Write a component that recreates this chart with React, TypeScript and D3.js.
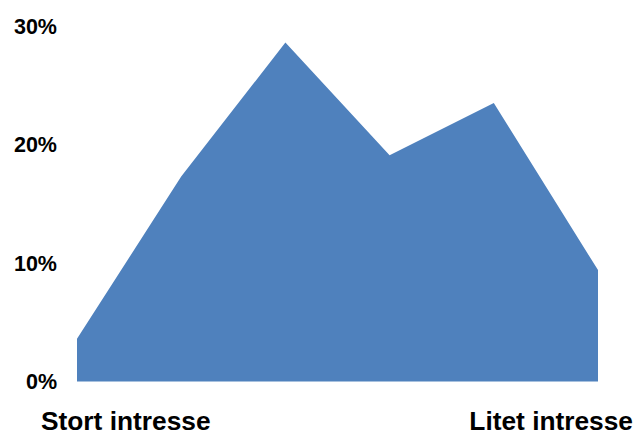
import React from "react";
import * as d3 from "d3";

// Share of respondents per step on the interest scale
const steps = [1, 2, 3, 4, 5, 6];
const shares = [0.036, 0.173, 0.286, 0.191, 0.235, 0.094];
const yTicks = [0, 0.1, 0.2, 0.3];
const endLabels = ["Stort intresse", "Litet intresse"];

const W = 636;
const H = 435;

export default function App() {
  const x = d3.scaleLinear().domain([1, 6]).range([77, 598]);
  const y = d3.scaleLinear().domain([0, 0.3]).range([381.5, 26]);

  const area = d3
    .area<number>()
    .x((_, i) => x(steps[i]))
    .y0(y(0))
    .y1((d) => y(d))
    .curve(d3.curveLinear);

  const fmt = d3.format(".0%");
  const font = "'Liberation Sans', Arial, Helvetica, sans-serif";

  return (
    <svg
      width={W}
      height={H}
      style={{ position: "absolute", left: 0, top: 0, background: "#fff" }}
    >
      <path d={area(shares) ?? ""} fill="#4f81bd" />
      {yTicks.map((t) => (
        <text
          key={t}
          x={57}
          y={y(t)}
          dy="0.36em"
          textAnchor="end"
          fontFamily={font}
          fontWeight="bold"
          fontSize={21.5}
          fill="#000"
        >
          {fmt(t)}
        </text>
      ))}
      <text
        x={41}
        y={429.5}
        textAnchor="start"
        fontFamily={font}
        fontWeight="bold"
        fontSize={26.3}
        fill="#000"
      >
        {endLabels[0]}
      </text>
      <text
        x={633}
        y={429.5}
        textAnchor="end"
        fontFamily={font}
        fontWeight="bold"
        fontSize={26.3}
        fill="#000"
      >
        {endLabels[1]}
      </text>
    </svg>
  );
}
